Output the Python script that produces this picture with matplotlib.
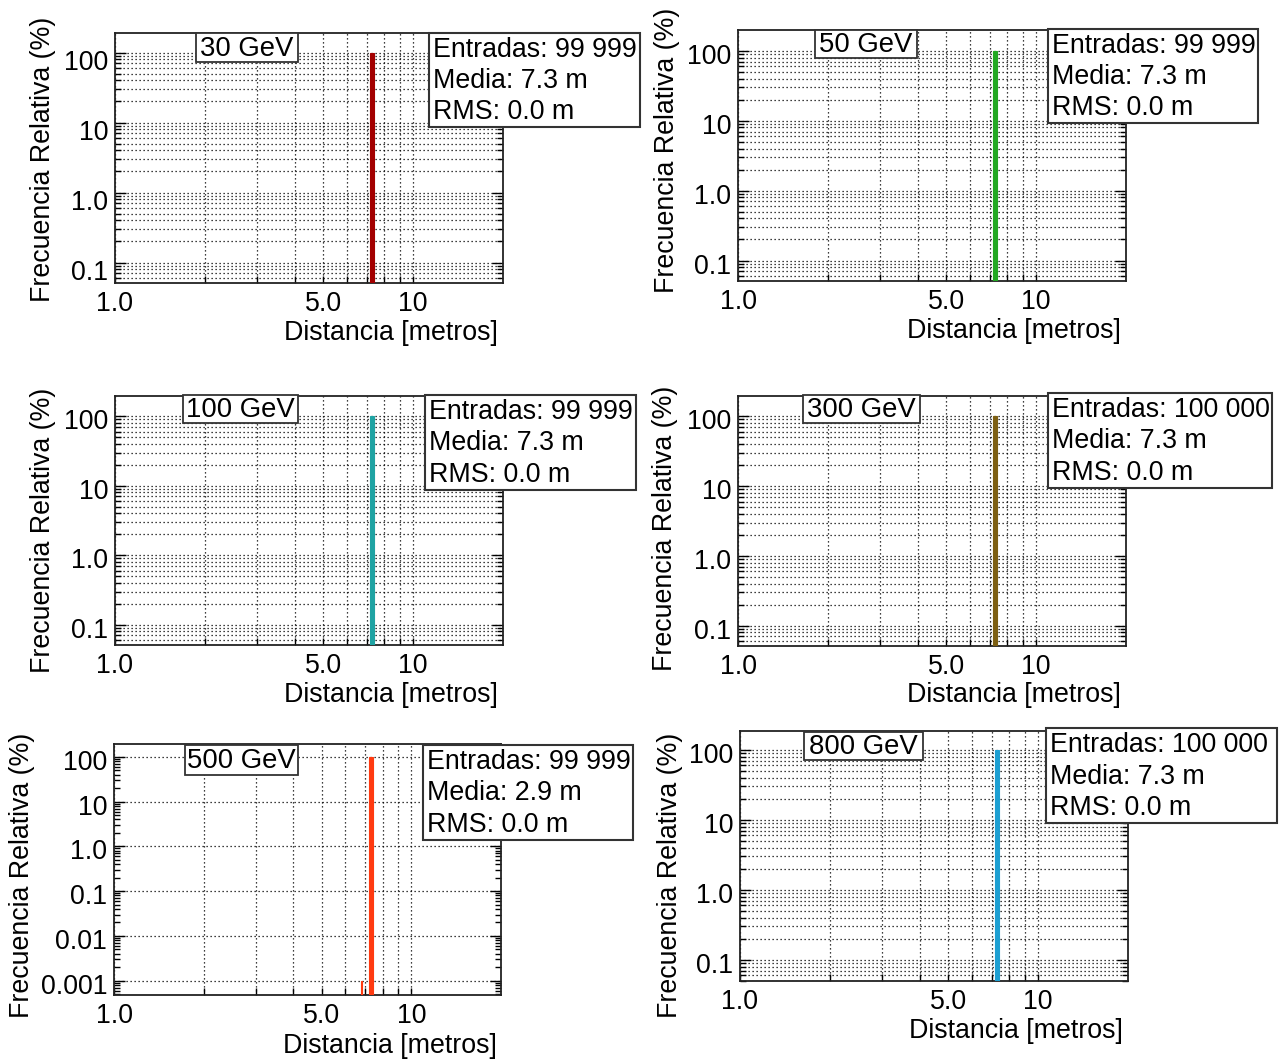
import matplotlib
matplotlib.use("Agg")
import matplotlib.pyplot as plt
from matplotlib.patches import Rectangle
from matplotlib.ticker import FixedLocator, NullFormatter, LogLocator
from matplotlib.transforms import ScaledTranslation

plt.rcParams['font.family'] = ['Liberation Sans', 'DejaVu Sans']

# Histogram contents per beam energy
energies = ["30 GeV", "50 GeV", "100 GeV", "300 GeV", "500 GeV", "800 GeV"]
entries = ["99 999", "99 999", "99 999", "100 000", "99 999", "100 000"]
means = [7.3, 7.3, 7.3, 7.3, 2.9, 7.3]
rms_values = [0.0, 0.0, 0.0, 0.0, 0.0, 0.0]
bin_centers = [[7.3], [7.3], [7.3], [7.3], [6.8, 7.3], [7.3]]
rel_freq = [[100.0], [100.0], [100.0], [100.0], [0.001, 99.999], [100.0]]
bin_widths = [[0.22], [0.22], [0.22], [0.22], [0.07, 0.22], [0.22]]
colors = ["#a30000", "#22a822", "#1fa3a3", "#7d5f12", "#ff3a10", "#1c9fd2"]

x_ticks = [1.0, 5.0, 10.0]
x_tick_labels = ["1.0", "5.0", "10"]
x_minor = [2, 3, 4, 6, 7, 8, 9]
y_ticks_std = [0.1, 1.0, 10.0, 100.0]
y_labels_std = ["0.1", "1.0", "10", "100"]
y_ticks_500 = [0.001, 0.01, 0.1, 1.0, 10.0, 100.0]
y_labels_500 = ["0.001", "0.01", "0.1", "1.0", "10", "100"]

W, H = 1284, 1062
fig = plt.figure(figsize=(W / 100, H / 100), dpi=100)
fig.patch.set_facecolor("white")

FS = 19.3

# panel layout in pixels
# axes (l, t, r, b), ylim, ytick label shift, title box, stats box, ylabel pos, xlabel pos
layout = [
    dict(ax=(115, 33, 503, 283), ylim=(0.051, 190), dy=-7,
         tbox=(196, 33, 298, 62), sbox=(429, 33, 640, 127),
         ylab=(43, 159), xlab=(498, 333)),
    dict(ax=(738, 30, 1126, 281), ylim=(0.051, 198), dy=-3,
         tbox=(815, 30, 917, 58), sbox=(1048, 29, 1258, 123),
         ylab=(667, 150), xlab=(1121, 331)),
    dict(ax=(115, 396, 503, 645), ylim=(0.051, 195), dy=-3,
         tbox=(183, 395, 298, 423), sbox=(425, 395, 636, 490),
         ylab=(43, 530), xlab=(498, 695)),
    dict(ax=(738, 396, 1126, 646), ylim=(0.051, 195), dy=-3,
         tbox=(803, 395, 920, 423), sbox=(1048, 393, 1272, 488),
         ylab=(665, 528), xlab=(1121, 695)),
    dict(ax=(114, 744, 501, 995), ylim=(0.00048, 193), dy=-3,
         tbox=(185, 745, 298, 775), sbox=(423, 745, 633, 840),
         ylab=(22, 875), xlab=(497, 1046)),
    dict(ax=(740, 731, 1128, 981), ylim=(0.05, 185), dy=-3,
         tbox=(804, 732, 923, 760), sbox=(1046, 728, 1277, 823),
         ylab=(670, 875), xlab=(1123, 1031)),
]


def fx(x):
    return x / W


def fy(y):
    return 1 - y / H


grid_kw = dict(color="black", linestyle=(0, (1, 2.2)), linewidth=0.9)

for i, cfg in enumerate(layout):
    l, t, r, b = cfg["ax"]
    ax = fig.add_axes([fx(l), fy(b), (r - l) / W, (b - t) / H])
    ax.set_xscale("log")
    ax.set_yscale("log")
    ax.set_xlim(1.0, 20.0)
    ax.set_ylim(*cfg["ylim"])

    ax.bar(bin_centers[i], rel_freq[i], width=bin_widths[i], color=colors[i],
           edgecolor=colors[i], linewidth=0.8, align="center", zorder=3)

    ax.xaxis.set_major_locator(FixedLocator(x_ticks))
    ax.set_xticklabels(x_tick_labels)
    ax.xaxis.set_minor_locator(FixedLocator(x_minor))
    ax.xaxis.set_minor_formatter(NullFormatter())

    if i == 4:
        ax.set_yticks(y_ticks_500)
        ax.set_yticklabels(y_labels_500)
    else:
        ax.set_yticks(y_ticks_std)
        ax.set_yticklabels(y_labels_std)
    ax.yaxis.set_minor_locator(LogLocator(base=10, subs=range(2, 10), numticks=20))
    ax.yaxis.set_minor_formatter(NullFormatter())

    ax.tick_params(axis="both", which="both", direction="in", top=False,
                   right=True, left=True, bottom=True, labelsize=FS, width=1.0)
    ax.tick_params(axis="y", which="major", length=8, pad=5)
    ax.tick_params(axis="y", which="minor", length=4.5)
    ax.tick_params(axis="x", which="major", length=5, pad=6)
    ax.tick_params(axis="x", which="minor", length=5)

    ax.grid(True, which="major", axis="both", **grid_kw)
    ax.grid(True, which="minor", axis="x", **grid_kw)
    if i != 4:
        ax.grid(True, which="minor", axis="y", **grid_kw)
    ax.set_axisbelow(True)

    for sp in ax.spines.values():
        sp.set_linewidth(1.3)
        sp.set_color("#222222")

    shift = ScaledTranslation(0, cfg["dy"] / 100, fig.dpi_scale_trans)
    for lab in ax.get_yticklabels():
        lab.set_transform(lab.get_transform() + shift)

    # axis titles
    yx, yy = cfg["ylab"]
    fig.text(fx(yx), fy(yy), "Frecuencia Relativa (%)", rotation=90,
             ha="center", va="center", fontsize=FS)
    xx, xy = cfg["xlab"]
    fig.text(fx(xx), fy(xy), "Distancia [metros]", ha="right", va="center",
             fontsize=FS)

    # energy title box
    tl, tt, tr, tb = cfg["tbox"]
    fig.add_artist(Rectangle((fx(tl), fy(tb)), (tr - tl) / W, (tb - tt) / H,
                             transform=fig.transFigure, facecolor="white",
                             edgecolor="#333333", linewidth=1.3, zorder=5))
    fig.text(fx((tl + tr) / 2), fy((tt + tb) / 2 + 1), energies[i],
             ha="center", va="center", fontsize=FS + 0.5, zorder=6)

    # statistics box
    sl, st, sr, sb = cfg["sbox"]
    fig.add_artist(Rectangle((fx(sl), fy(sb)), (sr - sl) / W, (sb - st) / H,
                             transform=fig.transFigure, facecolor="white",
                             edgecolor="#333333", linewidth=1.5, zorder=5))
    lines = [f"Entradas: {entries[i]}", f"Media: {means[i]:.1f} m",
             f"RMS: {rms_values[i]:.1f} m"]
    step = (sb - st) / 3.0
    for k, txt in enumerate(lines):
        fig.text(fx(sl + 4), fy(st + step * (k + 0.5) + 1), txt, ha="left",
                 va="center", fontsize=FS, zorder=6)

fig.savefig("out.png", dpi=100, facecolor="white")
